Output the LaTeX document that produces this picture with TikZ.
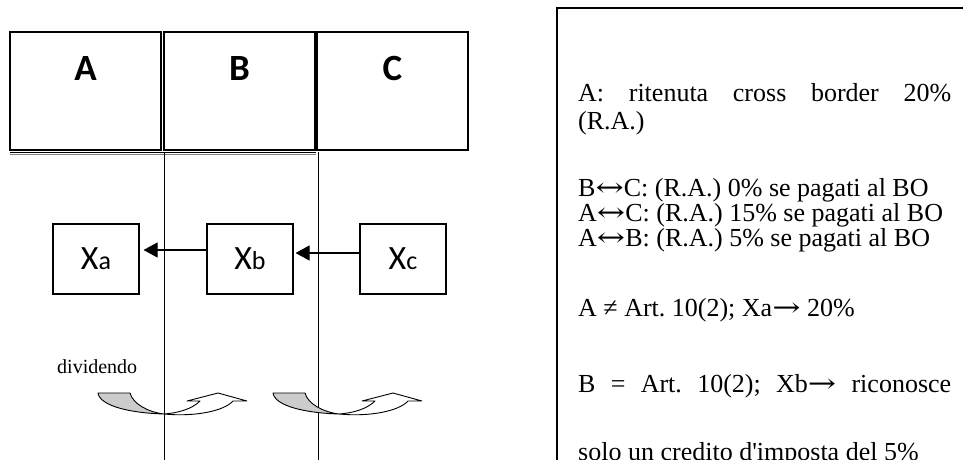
\documentclass[tikz,border=0pt]{standalone}
\usepackage{fontspec}
\setmainfont{Liberation Serif}[Ligatures=TeXOff]
\newfontfamily\carlito{Carlito}
\newfontfamily\symfont{DejaVu Serif}
\usetikzlibrary{arrows.meta}
\newcommand\curvarrow[1]{%
  \begin{scope}[shift={(#1,0)}]
    \filldraw[fill=gray!40, line width=0.9pt, line join=round]
      (98,393) -- (130,393) .. controls (133,404) and (148,412) .. (164,414)
      .. controls (130,413) and (100,406) .. (98,393) -- cycle;
    \filldraw[fill=white, line width=0.9pt, line join=round]
      (164,414) .. controls (195,417) and (224,411) .. (233,401) -- (247,401) -- (218,393)
      -- (187,401) -- (200,401) .. controls (192,409) and (178,413) .. (164,414) -- cycle;
  \end{scope}}
\newcommand\lra{\scalebox{1.3}[1]{\symfont ↔}}
\newcommand\rarr{\scalebox{1.3}[1]{\symfont →}}
\begin{document}
\frenchspacing
\begin{tikzpicture}[x=1pt,y=-1pt,
  hdr/.style={draw, line width=1.6pt, minimum width=151pt, minimum height=118pt, inner sep=0pt},
  hlabel/.style={font=\carlito\bfseries\fontsize{37}{37}\selectfont, inner sep=0pt},
  xbox/.style={draw, line width=1.1pt, minimum width=86pt, minimum height=70pt, inner sep=0pt, font=\carlito},
  flow/.style={-{Triangle[length=14pt,width=15pt]}, line width=1.1pt},
  rtxt/.style={anchor=base west, inner sep=0pt, font=\fontsize{26}{26}\selectfont},
  thinline/.style={line width=1pt}]
\useasboundingbox (0,0) rectangle (963,459);
\clip (0,0) rectangle (963,459);
\fill[white] (0,0) rectangle (963,459);

% header boxes
\node[hdr] (A) at (85.5,91) {};
\node[hdr] (B) at (239.5,91) {};
\node[hdr] (C) at (392.5,91) {};
\node[hlabel] (lA) at (85.5,68) {A};
\node[hlabel] (lB) at (239.5,68) {B};
\node[hlabel] (lC) at (392.5,68) {C};

% double line under A and B
\draw[line width=0.9pt] (10,152.5) -- (316,152.5);
\draw[gray, line width=0.9pt] (10,154.2) -- (316,154.2);

% vertical separators
\draw[thinline] (164,152) -- (164,470);
\draw[thinline] (318,152) -- (318,470);

% X boxes
\node[xbox] (Xa) at (96,259) {{\fontsize{34}{34}\selectfont X}{\fontsize{26}{26}\selectfont a}};
\node[xbox] (Xb) at (250,259) {{\fontsize{34}{34}\selectfont X}{\fontsize{26}{26}\selectfont b}};
\node[xbox] (Xc) at (403,259) {{\fontsize{34}{34}\selectfont X}{\fontsize{26}{26}\selectfont c}};
\draw[flow] ([yshift=9pt]Xb.west) -- ([yshift=9pt,xshift=4pt]Xa.east);
\draw[flow] ([yshift=6pt]Xc.west) -- ([yshift=6pt,xshift=2pt]Xb.east);

% dividendo
\node[anchor=base west, inner sep=0pt, font=\fontsize{20}{20}\selectfont] (div) at (57,373) {dividendo};
\curvarrow{0}
\curvarrow{175}

% right text box
\draw[line width=1.6pt] (975,8) -- (557,8) -- (557,475);
\node[rtxt] (t1) at (578,101) {\makebox[373pt][s]{A: ritenuta cross border 20\%}};
\node[rtxt] (t2) at (578,129) {(R.A.)};
\node[rtxt] (t3) at (578,196) {B\lra C: (R.A.) 0\% se pagati al BO};
\node[rtxt] (t4) at (578,221) {A\lra C: (R.A.) 15\% se pagati al BO};
\node[rtxt] (t5) at (578,246) {A\lra B: (R.A.) 5\% se pagati al BO};
\node[rtxt] (t6) at (578,316) {A ≠ Art. 10(2); Xa\rarr\ 20\%};
\node[rtxt] (t7) at (578,392) {\makebox[373pt][s]{B = Art. 10(2); Xb\rarr\ riconosce}};
\node[rtxt] (t8) at (578,460.5) {solo un credito d'imposta del 5\%};
\end{tikzpicture}
\end{document}
